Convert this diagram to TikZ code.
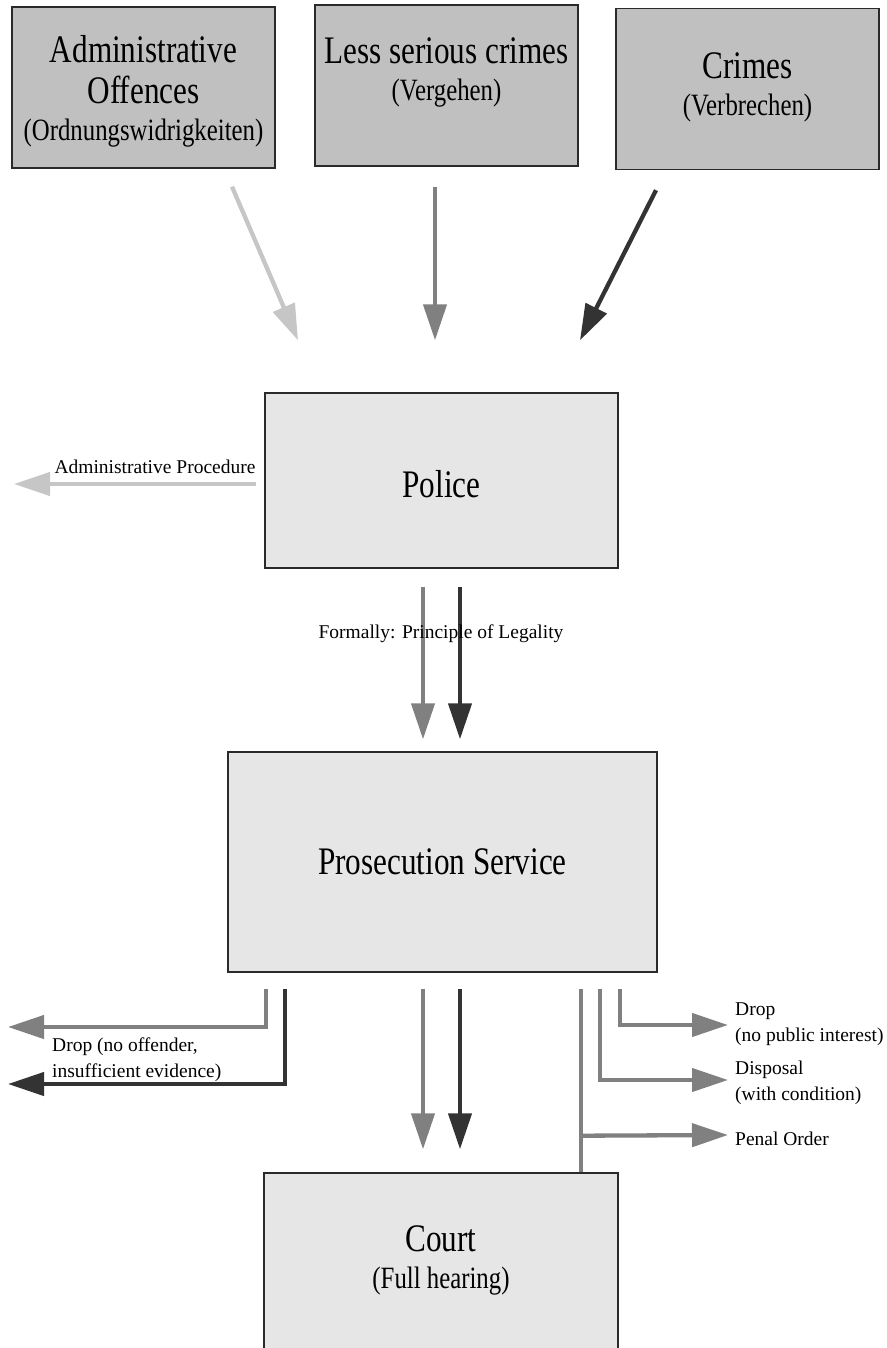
\documentclass[tikz,border=0pt]{standalone}
\usepackage{fontspec}
\setmainfont{Liberation Serif}
\newfontfamily\narrowserif[FakeStretch=0.8]{Liberation Serif}
\usetikzlibrary{arrows.meta,calc}

\definecolor{flowlight}{HTML}{C6C6C6}
\definecolor{flowmid}{HTML}{808080}
\definecolor{flowdark}{HTML}{333333}
\definecolor{boxtop}{HTML}{C0C0C0}
\definecolor{boxlow}{HTML}{E6E6E6}
\definecolor{boxedge}{HTML}{2A2A2A}

\tikzset{
  offencebox/.style={draw=boxedge, line width=1.4pt, fill=boxtop,
    minimum width=263pt, minimum height=161pt, inner sep=0pt},
  agencybox/.style={draw=boxedge, line width=1.4pt, fill=boxlow, inner sep=0pt},
  boxtext/.style={align=center, inner sep=0pt,
    font=\narrowserif\fontsize{39}{41}\selectfont},
  smalltext/.style={inner sep=0pt, align=left, font=\fontsize{19.5}{26}\selectfont},
  flow/.style={line width=4.3pt, line join=miter,
    -{Triangle[length=36pt,width=23pt]}},
  flowplain/.style={line width=4.3pt},
}
\newcommand{\subt}[1]{{\fontsize{31}{32}\selectfont #1}}

\begin{document}
\begin{tikzpicture}[x=1pt,y=-1pt]
\useasboundingbox (0,0) rectangle (886,1348);

% offence categories
\node[offencebox] (ao) at (143.5,87.5) {};
\node[offencebox] (ls) at (446.5,85.5) {};
\node[offencebox] (cr) at (747.5,89) {};
\node[boxtext] (aoT) at (143.5,91) {Administrative\\Offences\\[-4pt]\subt{(Ordnungswidrigkeiten)}};
\node[boxtext] (lsT) at (446.5,72) {Less serious crimes\\[-4pt]\subt{(Vergehen)}};
\node[boxtext] (crT) at (747.5,87) {Crimes\\[-4pt]\subt{(Verbrechen)}};

% agencies
\node[agencybox, minimum width=353pt, minimum height=175pt] (police) at (441.5,480.5) {};
\node[boxtext] (policeT) at (441.5,484) {Police};
\node[agencybox, minimum width=429pt, minimum height=220pt] (pros) at (442.5,862) {};
\node[boxtext] (prosT) at (442.5,862) {Prosecution Service};
\node[agencybox, minimum width=354pt, minimum height=200pt] (court) at (441,1273) {};
\node[boxtext] (courtT) at (441,1260) {Court\\[-4pt]\subt{(Full hearing)}};

% offences reported to the police
\draw[flow, flowlight] ($(ao.south)+(88.5,18)$) -- ($(police.north)+(-143.5,-52)$);
\draw[flow, flowmid]   ($(ls.south)+(-11.5,20)$) -- ($(police.north)+(-6.5,-52)$);
\draw[flow, flowdark]  ($(cr.south)+(-91.5,20)$) -- ($(police.north)+(138.5,-52)$);

% administrative procedure
\coordinate (apEnd) at (14,484);
\draw[flow, flowlight] ($(police.west)+(-8,3.5)$) -- (apEnd);
\node[smalltext] (apT) at (155,467) {Administrative Procedure};

% police to prosecution
\draw[flow, flowmid]  ($(police.south)+(-18.5,18)$) -- ($(pros.north)+(-19.5,-12)$);
\draw[flow, flowdark] ($(police.south)+(18.5,18)$) -- ($(pros.north)+(17.5,-12)$);
\node[smalltext] (legT) at (441,634) {Formally: Principle of Legality};

% drops to the left
\coordinate (dropA) at (8,1027);
\coordinate (dropB) at (8,1084);
\draw[flow, flowmid]  ($(pros.south)+(-176.5,16)$) |- (dropA);
\draw[flow, flowdark] ($(pros.south)+(-157.5,16)$) |- (dropB);
\node[smalltext, anchor=west] (dropT) at (52,1060) {Drop (no offender,\\insufficient evidence)};

% prosecution to court
\draw[flow, flowmid]  ($(pros.south)+(-19.5,16)$) -- ($(court.north)+(-18,-23)$);
\draw[flow, flowdark] ($(pros.south)+(17.5,16)$) -- ($(court.north)+(19,-23)$);

% other disposals to the right
\coordinate (outA) at (728,1025);
\coordinate (outB) at (728,1080);
\coordinate (outC) at (728,1135);
\draw[flowplain, flowmid] ($(pros.south)+(138.5,16)$) -- ($(court.north)+(140,0)$);
\draw[flow, flowmid] ($(pros.south)+(138.5,163)$) -- (outC);
\draw[flow, flowmid] ($(pros.south)+(157.5,16)$) |- (outB);
\draw[flow, flowmid] ($(pros.south)+(177.5,16)$) |- (outA);
\node[smalltext, anchor=west] (outAT) at (735,1024) {Drop\\(no public interest)};
\node[smalltext, anchor=west] (outBT) at (735,1083) {Disposal\\(with condition)};
\node[smalltext, anchor=west] (outCT) at (735,1139) {Penal Order};
\end{tikzpicture}
\end{document}
